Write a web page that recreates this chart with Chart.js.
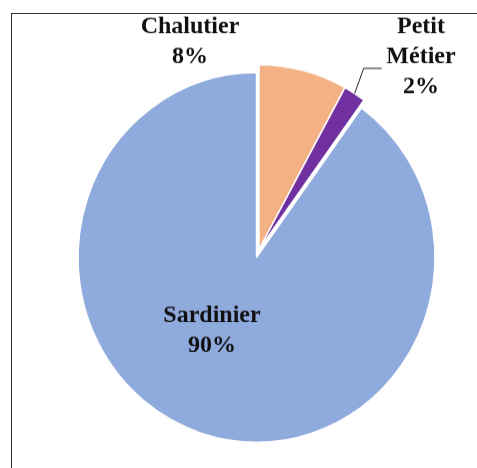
<!DOCTYPE html>
<html>
<head>
<meta charset="utf-8">
<script src="https://cdn.jsdelivr.net/npm/chart.js@4"></script>
<style>
	html, body { margin: 0; padding: 0; background: #fff; overflow: hidden; }
	body { width: 477px; height: 468px; position: relative; }
	#frame { position: absolute; left: 11px; top: 13px; width: 520px; height: 520px;
		border-left: 1.5px solid #333; border-top: 1.5px solid #333; }
	#wrap { position: absolute; left: 0; top: 0; width: 477px; height: 452px;
		transform: scaleY(1.0354); transform-origin: 0 0; }
</style>
</head>
<body>
<div id="frame"></div>
<div id="wrap"><canvas id="myChart" width="477" height="452"></canvas></div>
<script>
// data
var categories = ["Chalutier", "Petit Métier", "Sardinier"];
var shares = [8, 2, 90];
var pctLabels = ["8%", "2%", "90%"];

var colors = ["#F4B183", "#7030A0", "#8FAADC"];
var explode = [0, 0, 8]; // px, Sardinier slice pulled out

// label text blocks, anchor = canvas coords of first baseline (x is centre)
var labelSpots = [
	{ lines: ["Chalutier", pctLabels[0]], x: 190, y: 32 },
	{ lines: ["Petit", "Métier", pctLabels[1]], x: 421, y: 32 },
	{ lines: ["Sardinier", pctLabels[2]], x: 212, y: 311 }
];

// move exploded slices along their middle angle, radius unchanged
var explodePlugin = {
	id: "explodePlugin",
	afterDatasetsUpdate(chart) {
		var meta = chart.getDatasetMeta(0);
		meta.data.forEach(function(arc, i) {
			if (!explode[i]) return;
			var mid = (arc.startAngle + arc.endAngle) / 2;
			arc.x += Math.cos(mid) * explode[i];
			arc.y += Math.sin(mid) * explode[i];
		});
	}
};

var pieLabels = {
	id: "pieLabels",
	afterDatasetsDraw(chart) {
		var ctx = chart.ctx;
		var meta = chart.getDatasetMeta(0);
		ctx.save();
		// leader line for the small slice
		var arc = meta.data[1];
		var mid = (arc.startAngle + arc.endAngle) / 2;
		var sx = arc.x + Math.cos(mid) * arc.outerRadius;
		var sy = arc.y + Math.sin(mid) * arc.outerRadius;
		ctx.strokeStyle = "#222";
		ctx.lineWidth = 1;
		ctx.beginPath();
		ctx.moveTo(sx, sy);
		ctx.lineTo(sx + 9, 66);
		ctx.lineTo(sx + 27, 66);
		ctx.stroke();

		ctx.fillStyle = "#111";
		ctx.font = "bold 24px 'Liberation Serif', 'Times New Roman', serif";
		ctx.textAlign = "center";
		ctx.textBaseline = "alphabetic";
		labelSpots.forEach(function(s) {
			s.lines.forEach(function(t, i) {
				ctx.fillText(t, s.x, s.y + i * 29);
			});
		});
		ctx.restore();
	}
};

new Chart(document.getElementById("myChart").getContext("2d"), {
	type: "pie",
	data: {
		labels: categories,
		datasets: [{
			data: shares,
			backgroundColor: colors,
			borderColor: "#ffffff",
			borderWidth: 1.5,
			radius: 178.5
		}]
	},
	options: {
		responsive: false,
		animation: false,
		events: [],
		layout: { padding: { left: 41, right: 0, top: 30, bottom: 0 } },
		plugins: {
			legend: { display: false },
			tooltip: { enabled: false }
		}
	},
	plugins: [explodePlugin, pieLabels]
});
</script>
</body>
</html>
